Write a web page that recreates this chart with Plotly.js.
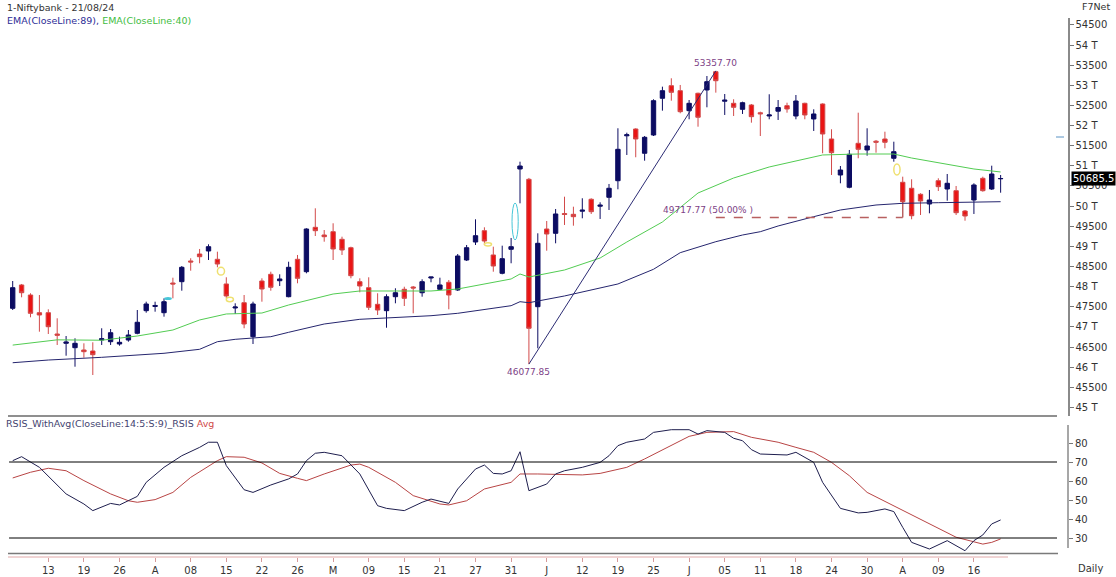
<!DOCTYPE html>
<html>
<head>
<meta charset="utf-8">
<script src="https://cdn.plot.ly/plotly-3.0.1.min.js"></script>
<style>html,body{margin:0;padding:0;background:#fff;}#chart{width:1116px;height:577px;}</style>
</head>
<body>
<div id="chart"></div>
<script>
// ---------- data ----------
const opens  = [47463,48042,47793,47354,47354,46825,46594,46485,46428,46403,46676,46634,46577,46676,46842,47404,47508,47354,48091,48124,48638,48811,48886,48680,48067,47471,47602,46758,48141,48307,48148,47751,48680,48372,49474,49283,49365,49176,48968,48124,47975,47562,47404,47751,47935,47992,47850,48215,47935,48109,47918,48662,49109,49390,48787,48332,48928,50922,50666,47503,49432,49325,49817,49797,49874,50170,49998,50219,50631,51746,51915,51312,51766,52678,52990,52866,52370,52802,52884,53338,52605,52553,52404,52511,52318,52238,52357,52494,52238,52553,52164,52536,51667,50773,50468,51560,51394,51612,51667,51188,50592,50443,50294,50053,50631,50425,50383,49879,50152,50691,50425,50679];
const highs  = [48141,48067,47836,47793,47438,47215,46775,46718,46594,46619,46967,46949,46758,46924,47421,47627,47627,47711,48223,48513,48705,48936,49052,48869,48233,47587,47793,47627,48208,48372,48307,48620,48787,49450,49946,49407,49574,49241,48993,48208,48233,47836,47811,47960,47999,48017,48183,48240,48223,48166,48811,49035,49673,49474,48993,49018,49209,51103,50700,49325,49631,49929,50234,49986,50195,50195,50095,50550,51933,51823,51933,51741,52653,52966,53174,53008,52635,52817,53231,53357.7,52784,52653,52593,52536,52345,52777,52635,52568,52759,52568,52404,52553,51908,50996,51394,52320,51933,51642,51848,51600,50731,50666,50319,50401,50691,50798,50500,49904,50567,50731,51004,50773];
const lows   = [47421,47736,47240,46882,46825,46552,46286,46013,46237,45807,46552,46552,46535,46634,46818,47354,47379,47255,47711,47900,48397,48581,48662,48481,47711,47322,46967,46577,47627,47900,48017,47736,48084,48332,49258,49117,48662,48787,48208,47860,47421,47297,46981,47587,47520,47339,47751,48109,47918,47438,47893,48638,49035,49035,48372,48307,48581,50070,46077.85,46470,48893,49077,49532,49514,49698,49805,49681,49904,50418,51270,51213,51128,51741,52370,52618,52305,52156,51972,52454,52817,52263,52238,52288,52072,51741,52156,52139,52320,52156,52156,51866,51312,50773,50567,50443,51188,51252,51327,51436,51103,50070,49673,49780,49822,50376,50135,49780,49638,49805,50358,50401,50333];
const closes = [47975,47850,47339,47297,47006,46793,46626,46594,46386,46311,46708,46857,46619,46800,47116,47570,47533,47627,48067,48481,48613,48744,48993,48563,47769,47495,47073,47570,47942,47985,48191,48481,48208,49432,49390,49241,48936,48911,48273,48017,47488,47421,47751,47850,47711,47967,48124,48240,48042,47793,48762,48968,49266,49134,48513,48695,48993,50996,46967,49077,49308,49805,49792,49738,49899,49862,50023,50443,51411,51771,51667,51709,52618,52866,52826,52345,52553,52206,53090,53114,52630,52454,52568,52221,52293,52263,52449,52412,52610,52263,52288,51791,51327,50897,51287,51411,51493,51587,51585,51351,50110,49762,50127,50152,50483,50567,49837,49755,50525,50383,50798,50685.5];

// EMA lines, read at sampled candle positions
const ema40Idx = [0,5,10,14,18,21,24,28,31,36,39,44,47,50,54,56,57,58,62,66,69,73,77,81,85,88,91,95,99,101,104,108,111];
const ema40Val = [46550,46680,46670,46775,46924,47173,47322,47346,47545,47818,47893,47893,47893,47942,48116,48191,48315,48240,48414,48712,49109,49606,50326,50698,50972,51121,51270,51294,51294,51195,51071,50922,50848];
const ema89Idx = [0,4,10,17,21,23,25,29,31,35,39,43,47,50,54,56,57,58,62,68,72,75,79,82,84,86,90,93,97,100,104,111];
const ema89Val = [46112,46179,46246,46346,46445,46634,46693,46758,46867,47073,47190,47230,47279,47339,47463,47528,47627,47602,47769,48067,48432,48844,49117,49283,49365,49507,49738,49904,50028,50070,50085,50110];

// RSI panel
const rsiIdx = [0,1,3,6,8,9,11,12,14,15,17,19,21,22,23,24,26,27,29,31,32,33,34,35,37,39,41,42,44,46,47,49,50,52,53,54,55,56,57,58,60,61,62,64,66,67,68,69,71,72,74,76,77,78,80,81,82,83,84,87,88,89,90,91,93,95,96,98,99,100,101,103,105,107,108,109,110,111];
const rsiVal = [70.7,72.8,67.2,53.2,47.9,44.4,48.2,47.4,51.9,59.3,67.2,73.3,77.7,80.4,80.4,68.1,55.4,54.0,57.9,61.1,63.7,70.7,74.6,75.1,73.3,63.7,47.0,45.6,44.4,48.8,50.5,48.2,55.8,66.3,68.4,64.0,63.7,65.4,75.4,54.9,58.4,63.7,65.4,67.2,69.8,73.3,78.6,80.4,82.1,85.6,87.0,87.0,84.7,86.5,85.6,82.5,81.2,76.5,74.2,73.7,75.1,72.5,69.8,59.3,45.6,43.2,43.5,45.3,43.9,35.6,27.7,24.2,28.6,23.3,28.6,31.6,37.4,39.5];
const avgIdx = [0,2,4,6,8,11,13,14,16,18,20,23,24,26,28,30,32,33,35,38,39,40,43,45,48,49,51,53,56,57,59,62,64,66,69,71,74,76,78,81,83,86,88,90,92,94,96,99,102,104,106,109,110,111];
const avgVal = [61.6,64.6,66.7,65.4,60.2,53.2,49.6,48.8,50.2,54.0,61.9,70.7,72.8,72.5,69.5,64.0,61.4,60.2,63.7,68.4,68.9,67.2,59.3,52.3,47.9,47.4,49.6,55.8,59.3,63.7,63.7,63.2,63.2,64.0,67.2,71.6,78.6,83.5,85.6,86.0,83.0,80.4,77.7,75.1,69.8,62.8,54.0,47.0,40.0,35.1,30.4,26.8,27.7,29.5];
const rsiLevels = [70, 30];

// axis labels
const xTickIdx  = [4,8,12,16,20,24,28,32,36,40,44,48,52,56,60,64,68,72,76,80,84,88,92,96,100,104,108];
const xTickText = ['13','19','26','A','08','15','22','26','M','09','15','21','27','31','J','12','19','25','J','05','11','18','24','30','A','09','16'];
const priceTicks = [45000,45500,46000,46500,47000,47500,48000,48500,49000,49500,50000,50500,51000,51500,52000,52500,53000,53500,54000,54500];
const priceTickText = priceTicks.map(v => v % 1000 === 0 ? (v/1000) + ' T' : String(v));
const rsiTicks = [30,40,50,60,70,80];

// swing annotations
const swingLow  = {idx: 58, val: 46077.85, label: '46077.85'};
const swingHigh = {idx: 79, val: 53357.70, label: '53357.70'};
const fibLevel  = {val: 49717.77, label: '49717.77 (50.00% )', endIdx: 100};
const lastPrice = 50685.5;

// ---------- build ----------
const idx = opens.map((_, i) => i);
const F = 'DejaVu Sans';
const purple = '#7d3f86';

const traces = [
  {type:'scatter', mode:'lines', x: ema89Idx, y: ema89Val, line:{color:'#25256e', width:1}, xaxis:'x', yaxis:'y', hoverinfo:'skip'},
  {type:'scatter', mode:'lines', x: ema40Idx, y: ema40Val, line:{color:'#52cc52', width:1}, xaxis:'x', yaxis:'y', hoverinfo:'skip'},
  {type:'candlestick', x: idx, open: opens, high: highs, low: lows, close: closes,
   increasing:{line:{color:'#0c0c62', width:1}, fillcolor:'#0c0c62'},
   decreasing:{line:{color:'#d24a4a', width:1}, fillcolor:'#ea1414'},
   whiskerwidth:0, xaxis:'x', yaxis:'y', hoverinfo:'skip'},
  {type:'scatter', mode:'lines', x: avgIdx, y: avgVal, line:{color:'#b84444', width:1}, xaxis:'x', yaxis:'y2', hoverinfo:'skip'},
  {type:'scatter', mode:'lines', x: rsiIdx, y: rsiVal, line:{color:'#1e1e4e', width:1}, xaxis:'x', yaxis:'y2', hoverinfo:'skip'}
];

const H = 577, T = 18, B = 20, plotH = H - T - B; // 539
const py = px => (H - B - px) / plotH;         // pixel y -> paper
const pxX = px => (px - 8) / 1060;              // pixel x -> paper

const shapes = [
  // separator between panels
  {type:'line', xref:'paper', yref:'paper', x0:0, x1:pxX(1057), y0:py(416), y1:py(416), line:{color:'#6a6a6a', width:1.5}},
  // bottom gray + pink lines
  {type:'line', xref:'paper', yref:'paper', x0:0, x1:pxX(1058), y0:py(553.5), y1:py(553.5), line:{color:'#7a7a7a', width:1.5}},
  {type:'line', xref:'paper', yref:'paper', x0:0, x1:pxX(1008), y0:py(557), y1:py(557), line:{color:'#e0a8a8', width:1}},
  // RSI axis line
  {type:'line', xref:'paper', yref:'paper', x0:1, x1:1, y0:py(548), y1:py(425), line:{color:'#8a8a8a', width:1.5}},
  // small marker on price axis
  {type:'line', xref:'paper', yref:'y', x0:pxX(1056), x1:pxX(1064), y0:51716, y1:51716, line:{color:'#5b93c4', width:1}},
  // trend line low -> high
  {type:'line', xref:'x', yref:'y', x0:swingLow.idx, y0:swingLow.val, x1:swingHigh.idx, y1:swingHigh.val, line:{color:'#2c2c74', width:1}},
  // 50% retracement
  {type:'line', xref:'x', yref:'y', x0:swingHigh.idx, x1:fibLevel.endIdx, y0:fibLevel.val, y1:fibLevel.val, line:{color:'#b86060', width:1.5, dash:'dash'}},
  {type:'line', xref:'x', yref:'y', x0:fibLevel.endIdx, x1:fibLevel.endIdx, y0:fibLevel.val, y1:opens[fibLevel.endIdx], line:{color:'#b86060', width:1.5}, layer:'below'},
  // marker ellipses
  {type:'circle', xref:'x', yref:'y', x0:56.1, x1:56.8, y0:49159, y1:50078, line:{color:'#46c6d8', width:1}},
  {type:'circle', xref:'x', yref:'y', x0:17.1, x1:17.8, y0:47687, y1:47726, line:{color:'#46c6d8', width:1.5}},
  {type:'circle', xref:'x', yref:'y', x0:23.0, x1:23.8, y0:48290, y1:48481, line:{color:'#efe070', width:1.5}},
  {type:'circle', xref:'x', yref:'y', x0:24.0, x1:24.8, y0:47627, y1:47736, line:{color:'#efe070', width:1.5}},
  {type:'circle', xref:'x', yref:'y', x0:53.0, x1:53.8, y0:49010, y1:49092, line:{color:'#efe070', width:1.5}},
  {type:'circle', xref:'x', yref:'y', x0:99.0, x1:99.7, y0:50773, y1:51046, line:{color:'#efe070', width:1.5}}
];
rsiLevels.forEach(v => shapes.push({type:'line', xref:'paper', yref:'y2', x0:0.001, x1:pxX(1057), y0:v, y1:v, line:{color:'#000', width:1}}));

const annotations = [
  {xref:'paper', yref:'paper', x:pxX(5), y:py(8), xanchor:'left', yanchor:'middle', showarrow:false, text:'1-Niftybank - 21/08/24', font:{family:F, size:9.5, color:'#333'}},
  {xref:'paper', yref:'paper', x:pxX(5), y:py(21), xanchor:'left', yanchor:'middle', showarrow:false,
   text:'<span style="color:#2c2c96">EMA(CloseLine:89), </span><span style="color:#3fbd3f">EMA(CloseLine:40)</span>', font:{family:F, size:9.5}},
  {xref:'paper', yref:'paper', x:pxX(4), y:py(423), xanchor:'left', yanchor:'middle', showarrow:false,
   text:'<span style="color:#444470">RSIS_WithAvg(CloseLine:14:5:S:9)_RSIS </span><span style="color:#d04a4a">Avg</span>', font:{family:F, size:9.5}},
  {xref:'paper', yref:'paper', x:pxX(1096), y:py(7), xanchor:'center', yanchor:'middle', showarrow:false, text:'F7Net', font:{family:F, size:9.5, color:'#333'}},
  {xref:'paper', yref:'paper', x:pxX(1090), y:py(568), xanchor:'center', yanchor:'middle', showarrow:false, text:'Daily', font:{family:F, size:10, color:'#333'}},
  {xref:'x', yref:'y', x:swingHigh.idx, y:swingHigh.val, xanchor:'center', yanchor:'bottom', yshift:1, showarrow:false, text:swingHigh.label, font:{family:F, size:9, color:purple}},
  {xref:'x', yref:'y', x:swingLow.idx, y:swingLow.val, xanchor:'center', yanchor:'top', yshift:-1, showarrow:false, text:swingLow.label, font:{family:F, size:9, color:purple}},
  {xref:'x', yref:'y', x:83.4, y:fibLevel.val, xanchor:'right', yanchor:'bottom', yshift:0, showarrow:false, text:fibLevel.label, font:{family:F, size:9, color:purple}},
  {xref:'paper', yref:'y', x:pxX(1071), y:lastPrice, xanchor:'left', yanchor:'middle', showarrow:false, text:String(lastPrice), bgcolor:'#000', borderpad:1, font:{family:F, size:10, color:'#fff'}}
];

const layout = {
  width:1116, height:577,
  margin:{l:8, r:48, t:T, b:B, pad:0},
  paper_bgcolor:'#fff', plot_bgcolor:'#fff',
  showlegend:false, hovermode:false, dragmode:false,
  font:{family:F, size:10, color:'#333'},
  boxgap:0.3,
  xaxis:{anchor:'y2', range:[-0.528, 118.57], tickmode:'array', tickvals:xTickIdx, ticktext:xTickText,
         showgrid:false, zeroline:false, showline:false, ticks:'outside', ticklen:4, tickcolor:'#d49a9a',
         tickfont:{family:F, size:10, color:'#333'}, rangeslider:{visible:false}, fixedrange:true},
  yaxis:{domain:[py(416), 1], range:[44789, 54671], side:'right', anchor:'x', tickmode:'array',
         tickvals:priceTicks, ticktext:priceTickText, showgrid:false, zeroline:false, showline:true,
         linecolor:'#8a8a8a', linewidth:1.5, ticks:'outside', ticklen:4, tickcolor:'#777',
         tickfont:{family:F, size:10, color:'#333'}, fixedrange:true},
  yaxis2:{domain:[0, py(424)], range:[20, 90], side:'right', anchor:'x', tickmode:'array', tickvals:rsiTicks,
          showgrid:false, zeroline:false, showline:false, ticks:'outside', ticklen:4, tickcolor:'#777',
          tickfont:{family:F, size:10, color:'#333'}, fixedrange:true},
  shapes: shapes,
  annotations: annotations
};

Plotly.newPlot('chart', traces, layout, {staticPlot:true, displayModeBar:false});
</script>
</body>
</html>
